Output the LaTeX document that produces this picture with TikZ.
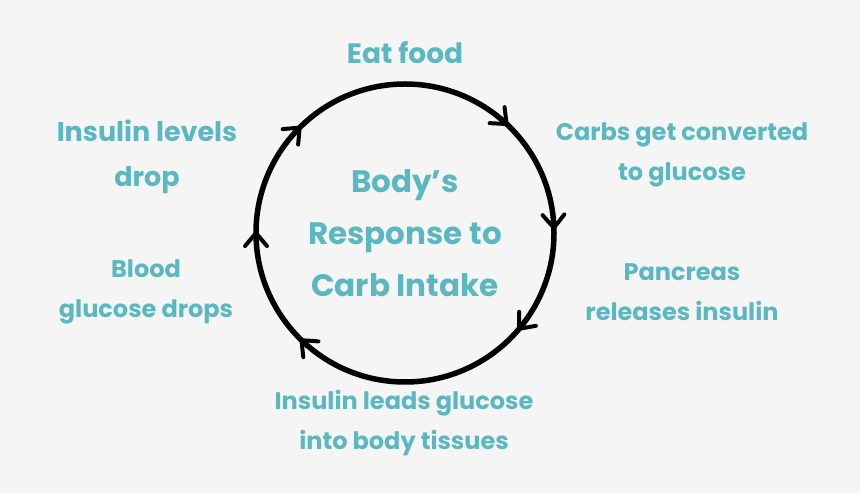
\documentclass[tikz,border=0pt]{standalone}
\usepackage{fontspec}
\setmainfont{Poppins}
\usetikzlibrary{calc}
\begin{document}
\begin{tikzpicture}[x=1pt,y=1pt,
  lbl/.style={text=teal1,font=\bfseries\fontsize{24}{40}\selectfont,align=center},
  chev/.style={line width=4pt,line cap=round,line join=round}]
\definecolor{teal1}{HTML}{5BB8C0}
\definecolor{bg}{HTML}{F5F5F5}
\fill[bg] (0,0) rectangle (860,493);
\useasboundingbox (0,0) rectangle (860,493);
\coordinate (c) at (405,260);
\draw[line width=5.5pt] (c) circle (149);
\foreach \a in {47,2,-40,-134,180,135}{
  \coordinate (t) at ($(c)+(\a:149)$);
  \draw[chev] ($(t)+(\a+90-40:17)$) -- (t) -- ($(t)+(\a+90+40:17)$);
}
\node[lbl,font=\bfseries\fontsize{28}{34}\selectfont] (eat) at (405,440) {Eat food};
\node[lbl] (carbs) at (682,338) {Carbs get converted\\to glucose};
\node[lbl] (panc) at (682,201) {Pancreas\\releases insulin};
\node[lbl] (ins) at (404,70) {Insulin leads glucose\\into body tissues};
\node[lbl] (blood) at (146,201) {Blood\\glucose drops};
\node[lbl,font=\bfseries\fontsize{27}{45}\selectfont] (drop) at (147,336) {Insulin levels\\drop};
\node[lbl,font=\bfseries\fontsize{31}{52}\selectfont] (mid) at (405,260) {Body's\\Response to\\Carb Intake};
\end{tikzpicture}
\end{document}
